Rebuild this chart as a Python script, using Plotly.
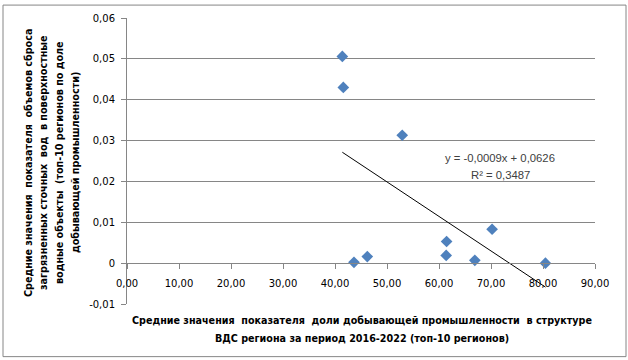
import numpy as np
import plotly.graph_objects as go

# Data
share_mining = [41.41, 41.60, 52.93, 43.65, 46.21, 61.46, 61.38, 66.89, 70.21, 80.47]
discharge = [0.0506, 0.0430, 0.0313, 0.0002, 0.0016, 0.0053, 0.0019, 0.0007, 0.0083, 0.0000]

x_tickvals = [0, 10, 20, 30, 40, 50, 60, 70, 80, 90]
x_ticktext = ["0,00", "10,00", "20,00", "30,00", "40,00", "50,00", "60,00", "70,00", "80,00", "90,00"]
y_tickvals = [-0.01, 0, 0.01, 0.02, 0.03, 0.04, 0.05, 0.06]
y_ticktext = ["-0,01", "0", "0,01", "0,02", "0,03", "0,04", "0,05", "0,06"]

eq_text = "y = -0,0009x + 0,0626"
r2_text = "R² = 0,3487"

y_title_lines = [
    "Средние значения  показателя  объемов сброса",
    "загрязненных сточных  вод  в поверхностные",
    "водные объекты  (топ-10 регионов по доле",
    "добывающей промышленности)",
]
x_title_lines = [
    "Средние значения  показателя  доли добывающей промышленности  в структуре",
    "ВДС региона за период 2016-2022 (топ-10 регионов)",
]

# Layout geometry (pixels)
W, H = 628, 360
L, R, T, B = 127, 595, 16, 304

xs = np.array(share_mining)
ys = np.array(discharge)
k, b = np.polyfit(xs, ys, 1)
line_x = np.array([xs.min(), xs.max()])
line_y = k * line_x + b

fig = go.Figure()
fig.add_trace(go.Scatter(
    x=share_mining, y=discharge, mode="markers",
    marker=dict(symbol="diamond", size=9, color="#4F81BD", line=dict(width=0)),
    showlegend=False, hoverinfo="skip",
))
fig.add_trace(go.Scatter(
    x=line_x, y=line_y, mode="lines",
    line=dict(color="black", width=1),
    showlegend=False, hoverinfo="skip",
))

def px2fx(p):
    return (p - L) / (R - L)

def py2fy(p):
    return (B - p) / (B - T)

annotations = []
# trendline label
annotations.append(dict(x=px2fx(500), y=py2fy(157), xref="paper", yref="paper",
                        xanchor="center", yanchor="middle",
                        text=eq_text, showarrow=False,
                        font=dict(family="Liberation Sans", size=11.3, color="#404040")))
annotations.append(dict(x=px2fx(500), y=py2fy(174), xref="paper", yref="paper",
                        xanchor="center", yanchor="middle",
                        text=r2_text, showarrow=False,
                        font=dict(family="Liberation Sans", size=11.3, color="#404040")))
# y title lines
for line, xp in zip(y_title_lines, [29, 44, 60, 76]):
    annotations.append(dict(x=px2fx(xp), y=py2fy(162), xref="paper", yref="paper",
                            xanchor="center", yanchor="middle",
                            text="<b>" + line + "</b>", showarrow=False, textangle=-90,
                            font=dict(family="DejaVu Sans", size=9.6, color="black")))
for line, yp in zip(x_title_lines, [321, 339]):
    annotations.append(dict(x=px2fx(362), y=py2fy(yp), xref="paper", yref="paper",
                            xanchor="center", yanchor="middle",
                            text="<b>" + line + "</b>", showarrow=False,
                            font=dict(family="DejaVu Sans", size=9.6, color="black")))

fig.update_layout(
    width=W, height=H,
    margin=dict(l=L, r=W - R, t=T, b=H - B, pad=0),
    paper_bgcolor="white", plot_bgcolor="white",
    annotations=annotations,
    shapes=[dict(type="rect", xref="paper", yref="paper",
                 x0=px2fx(3), x1=px2fx(626), y0=py2fy(357), y1=py2fy(3),
                 line=dict(color="#868686", width=1), fillcolor="rgba(0,0,0,0)", layer="above")],
)
fig.update_xaxes(
    range=[0, 90], tickvals=x_tickvals, ticktext=x_ticktext,
    showgrid=False, zeroline=False, showline=True, linecolor="#868686", linewidth=1,
    ticks="outside", ticklen=5, tickcolor="#868686",
    anchor="free", position=1 / 7, ticklabelstandoff=6,
    tickfont=dict(family="DejaVu Sans", size=10, color="black"),
)
fig.update_yaxes(
    range=[-0.01, 0.06], tickvals=y_tickvals, ticktext=y_ticktext,
    showgrid=True, gridcolor="#868686", gridwidth=1, zeroline=False,
    showline=True, linecolor="#868686", linewidth=1,
    ticks="outside", ticklen=5, tickcolor="#868686", ticklabelstandoff=4,
    tickfont=dict(family="DejaVu Sans", size=10, color="black"),
)

fig.write_html("out.html", config={"displayModeBar": False},
               post_script="document.body.style.margin='0';")
